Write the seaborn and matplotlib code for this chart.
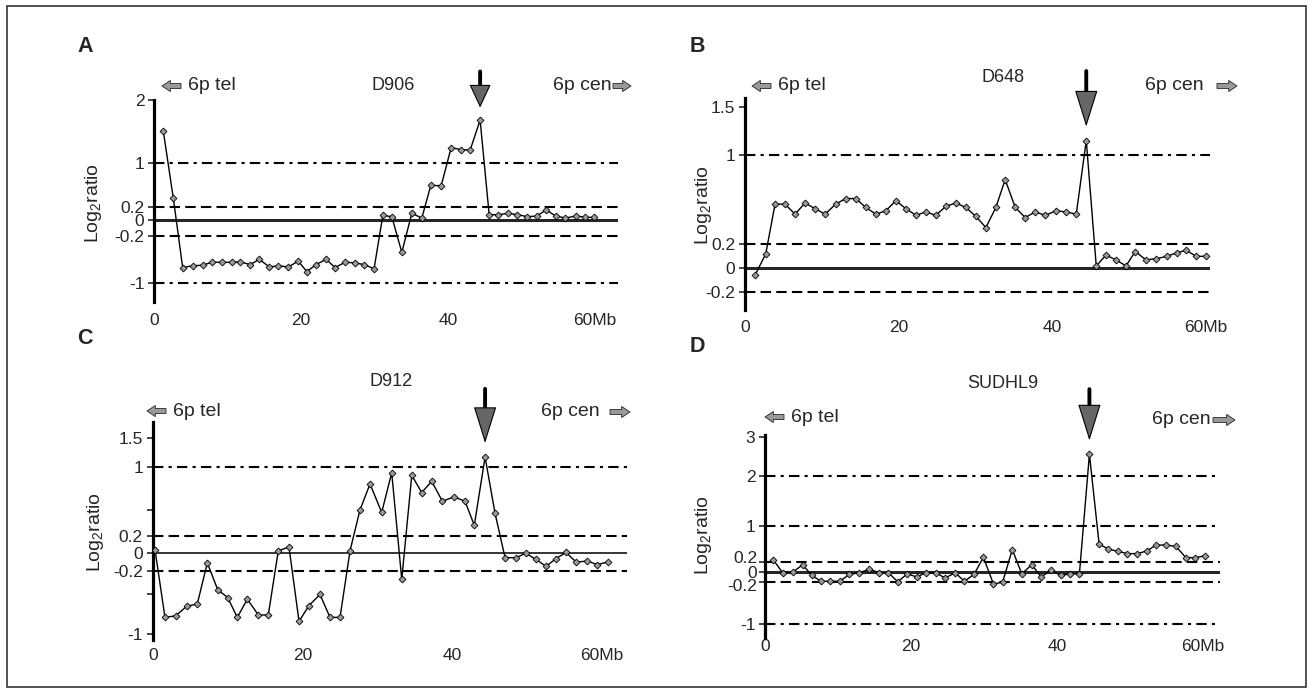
import numpy as np
import pandas as pd
import seaborn as sns
import matplotlib.pyplot as plt
from matplotlib.patches import Rectangle

W, H = 1313, 693

# Panel A - D906 (position in Mb, log2 ratio)
a_pos = [1.27, 2.63, 3.90, 5.27, 6.63, 7.85, 9.21, 10.57, 11.70, 13.06,
         14.33, 15.69, 16.91, 18.27, 19.63, 20.78, 22.04, 23.40, 24.63, 25.99,
         27.35, 28.57, 29.93, 31.12, 32.34, 33.70, 35.06, 36.42, 37.65, 39.05,
         40.41, 41.73, 42.99, 44.35, 45.58, 46.84, 48.20, 49.43, 50.79, 52.07,
         53.29, 54.65, 55.92, 57.41, 58.64, 59.86]
a_ratio = [1.5, 0.35, -0.74, -0.71, -0.70, -0.65, -0.65, -0.65, -0.64, -0.69,
           -0.60, -0.73, -0.71, -0.73, -0.63, -0.81, -0.69, -0.60, -0.74, -0.65,
           -0.66, -0.69, -0.76, 0.07, 0.05, -0.48, 0.10, 0.03, 0.59, 0.58,
           1.24, 1.21, 1.20, 1.68, 0.08, 0.08, 0.10, 0.08, 0.05, 0.06,
           0.15, 0.06, 0.03, 0.06, 0.04, 0.04]

# Panel B - D648
b_pos = [1.30, 2.70, 3.91, 5.21, 6.51, 7.81, 9.11, 10.42, 11.81, 13.11,
         14.41, 15.72, 17.02, 18.32, 19.62, 20.92, 22.23, 23.53, 24.83, 26.13,
         27.43, 28.74, 30.04, 31.34, 32.64, 33.85, 35.16, 36.46, 37.76, 39.06,
         40.49, 41.80, 43.10, 44.40, 45.70, 46.97, 48.27, 49.57, 50.78, 52.17,
         53.48, 54.91, 56.21, 57.38, 58.72, 60.03]
b_ratio = [-0.06, 0.12, 0.56, 0.56, 0.47, 0.57, 0.52, 0.47, 0.56, 0.61,
           0.61, 0.53, 0.47, 0.50, 0.59, 0.52, 0.46, 0.49, 0.46, 0.54,
           0.57, 0.53, 0.45, 0.35, 0.53, 0.78, 0.53, 0.44, 0.49, 0.46,
           0.50, 0.49, 0.47, 1.15, 0.02, 0.11, 0.07, 0.02, 0.14, 0.07,
           0.08, 0.10, 0.13, 0.15, 0.10, 0.10]

# Panel C - D912
c_pos = [0.31, 1.64, 3.07, 4.55, 5.96, 7.30, 8.69, 10.03, 11.31, 12.65,
         14.12, 15.45, 16.79, 18.22, 19.56, 20.90, 22.36, 23.70, 25.04, 26.38,
         27.71, 29.05, 30.61, 31.95, 33.29, 34.63, 35.96, 37.30, 38.72, 40.28,
         41.75, 42.99, 44.43, 45.76, 47.10, 48.57, 49.87, 51.24, 52.58, 53.92,
         55.25, 56.59, 58.10, 59.44, 60.83]
c_ratio = [0.04, -0.79, -0.77, -0.65, -0.62, -0.11, -0.44, -0.54, -0.79, -0.56,
           -0.76, -0.76, 0.03, 0.07, -0.84, -0.64, -0.50, -0.79, -0.79, 0.03,
           0.50, 0.80, 0.47, 0.93, -0.31, 0.90, 0.70, 0.83, 0.60, 0.65,
           0.60, 0.32, 1.17, 0.46, -0.05, -0.05, 0.0, -0.07, -0.15, -0.06,
           0.01, -0.10, -0.09, -0.13, -0.10]

# Panel D - SUDHL9
d_pos = [1.14, 2.42, 3.79, 5.16, 6.40, 7.67, 8.90, 10.27, 11.55, 12.92,
         14.29, 15.62, 16.89, 18.18, 19.49, 20.78, 22.05, 23.38, 24.66, 26.03,
         27.30, 28.63, 29.90, 31.27, 32.53, 33.86, 35.16, 36.53, 37.81, 39.14,
         40.51, 41.78, 43.05, 44.42, 45.75, 47.03, 48.32, 49.63, 51.00, 52.29,
         53.56, 54.89, 56.26, 57.63, 58.90, 60.18]
d_ratio = [0.24, -0.02, -0.01, 0.14, -0.07, -0.18, -0.18, -0.18, -0.05, -0.02,
           0.05, -0.02, -0.02, -0.19, -0.04, -0.10, -0.02, -0.02, -0.12, -0.02,
           -0.18, -0.05, 0.30, -0.23, -0.20, 0.47, -0.04, 0.14, -0.10, 0.03,
           -0.07, -0.04, -0.04, 2.55, 0.59, 0.48, 0.43, 0.38, 0.38, 0.44,
           0.57, 0.57, 0.54, 0.29, 0.29, 0.33]

xticks = [0, 20, 40, 60]
xticklabels = ['0', '20', '40', '60Mb']

sns.set_style('white')
plt.rcParams['font.family'] = ['Liberation Sans', 'DejaVu Sans']
plt.rcParams['mathtext.fontset'] = 'custom'
plt.rcParams['mathtext.rm'] = 'Liberation Sans'
plt.rcParams['mathtext.it'] = 'Liberation Sans:italic'

FS = 12.5
fig = plt.figure(figsize=(W / 100, H / 100), dpi=100)


def fx(px):
    return px / W


def fy(py):
    return 1 - py / H


def piecewise_scale(vals, pix):
    # the printed y axes are not quite linear: map values through anchor points
    v = np.asarray(vals, float)
    p = -np.asarray(pix, float)

    def lin(y, xs, ys):
        y = np.asarray(y, float)
        out = np.interp(y, xs, ys)
        lo_slope = (ys[1] - ys[0]) / (xs[1] - xs[0])
        hi_slope = (ys[-1] - ys[-2]) / (xs[-1] - xs[-2])
        out = np.where(y < xs[0], ys[0] + (y - xs[0]) * lo_slope, out)
        out = np.where(y > xs[-1], ys[-1] + (y - xs[-1]) * hi_slope, out)
        return out

    return (lambda y: lin(y, v, p)), (lambda u: lin(u, p, v))


# layout of each panel in reference pixels: left, right, top, bottom
panels = [
    dict(letter='A', name='D906', pos=a_pos, ratio=a_ratio,
         box=(154, 618), xmax=63.1,
         anchors=([-1.33, -1, -0.2, 0, 0.2, 1, 2], [302, 282.7, 236, 220, 206.7, 162.7, 100]),
         yticks=[2, 1, 0.2, 0, -0.2, -1], ylabels=['2', '1', '0.2', '0', '-0.2', '-1'],
         dashdot=[1, -1], zero_lw=2.2, xpad=8, arrow=(35, 9, 15, 7),
         letter_xy=(85, 46), title_xy=(393, 85), tel=(162, 86), cen=(553, 86, 613, 631),
         ylab_xy=(93, 203)),
    dict(letter='B', name='D648', pos=b_pos, ratio=b_ratio,
         box=(745, 1210), xmax=60.5,
         anchors=([-0.357, -0.2, 0, 0.2, 1, 1.5, 1.59], [310, 291.7, 268.3, 244.3, 155, 106.7, 98]),
         yticks=[1.5, 1, 0.2, 0, -0.2], ylabels=['1.5', '1', '0.2', '0', '-0.2'],
         dashdot=[1], zero_lw=2.2, xpad=7, arrow=(50, 10, 24, 7.5),
         letter_xy=(697, 46), title_xy=(1003, 77), tel=(752, 86), cen=(1145, 86, 1217, 1237),
         ylab_xy=(703, 205)),
    dict(letter='C', name='D912', pos=c_pos, ratio=c_ratio,
         box=(152.7, 627), xmax=63.4,
         anchors=([-1.08, -1, -0.2, 0, 0.2, 1, 1.5, 1.79],
                  [640, 634, 570.7, 553.3, 535.7, 466.7, 438, 421.7]),
         yticks=[1.5, 1, 0.5, 0.2, 0, -0.2, -0.5, -1],
         ylabels=['1.5', '1', '', '0.2', '0', '-0.2', '', '-1'],
         dashdot=[1], zero_lw=1.3, xpad=6, arrow=(49, 10, 24, 7.5),
         letter_xy=(85, 338), title_xy=(391, 381), tel=(147, 411), cen=(541, 412, 610, 630),
         ylab_xy=(95, 532)),
    dict(letter='D', name='SUDHL9', pos=d_pos, ratio=d_ratio,
         box=(765, 1220), xmax=62.3,
         anchors=([-1.27, -1, -0.2, 0, 0.2, 1, 2, 3, 3.05],
                  [638, 624, 582.3, 571.7, 561.7, 525.7, 475.7, 437, 435]),
         yticks=[3, 2, 1, 0.2, 0, -0.2, -1],
         ylabels=['3', '2', '1', '', '', '', '-1'],
         crowded=[(0.2, '0.2', 2), (0, '0', -1), (-0.2, '-0.2', -3)],
         dashdot=[2, 1, -1], zero_lw=2.2, xpad=1, arrow=(47, 10, 24, 7.5),
         letter_xy=(697, 347), title_xy=(1003, 384), tel=(765, 417), cen=(1152, 420, 1213, 1235),
         ylab_xy=(703, 535)),
]

small_arrow = dict(arrowstyle='simple,head_length=0.6,head_width=0.8,tail_width=0.35',
                   mutation_scale=10, fc='0.6', ec='0.15', lw=0.6, shrinkA=0, shrinkB=0)

for p in panels:
    l, r = p['box']
    vals, pix = p['anchors']
    t, b = pix[-1], pix[0]
    ax = fig.add_axes([fx(l), fy(b), (r - l) / W, (b - t) / H])
    ax.patch.set_alpha(0)
    ax.set_yscale('function', functions=piecewise_scale(vals, pix))

    # reference lines
    for v in p['dashdot']:
        ax.axhline(v, color='black', lw=1.5, ls=(0, (5, 2.5, 1.5, 2.5)), zorder=1)
    for v in (0.2, -0.2):
        ax.axhline(v, color='black', lw=1.5, ls=(0, (5, 2.5)), zorder=1)
    ax.axhline(0, color='0.15', lw=p['zero_lw'], zorder=1)

    df = pd.DataFrame({'pos': p['pos'], 'ratio': p['ratio']})
    sns.lineplot(data=df, x='pos', y='ratio', ax=ax, color='black', lw=1.0,
                 marker='D', markersize=3.5, markerfacecolor='0.6',
                 markeredgecolor='black', markeredgewidth=0.6, zorder=3)

    ax.set_xlim(0, p['xmax'])
    ax.set_ylim(vals[0], vals[-1])
    ax.set_xlabel('')
    ax.set_ylabel('')
    ax.set_xticks(xticks)
    ax.set_xticklabels(xticklabels, fontsize=FS)
    ax.set_yticks(p['yticks'])
    ax.set_yticklabels(p['ylabels'], fontsize=FS)
    ax.minorticks_off()
    ax.tick_params(axis='x', length=0, pad=p['xpad'])
    ax.tick_params(axis='y', direction='out', length=4, width=1.2, pad=3, left=True)
    for s in ('top', 'right', 'bottom'):
        ax.spines[s].set_visible(False)
    ax.spines['left'].set_linewidth(2.3)
    ax.spines['left'].set_color('black')

    # labels close together around zero, nudged apart a little
    for v, txt, dy in p.get('crowded', []):
        ax.annotate(txt, xy=(0, v), xycoords=ax.get_yaxis_transform(),
                    xytext=(-5.5, dy), textcoords='offset points',
                    ha='right', va='center', fontsize=FS, annotation_clip=False)

    # big arrow marking the peak
    length, gap, head, hw = p['arrow']
    i = int(np.argmax(p['ratio']))
    peak = (p['pos'][i], p['ratio'][i])
    ax.annotate('', xy=peak, xytext=(0, length), textcoords='offset points',
                arrowprops=dict(arrowstyle='-', lw=2.8, color='black',
                                shrinkA=0, shrinkB=gap + head - 2),
                annotation_clip=False)
    ax.annotate('', xy=peak, xytext=(0, gap + head), textcoords='offset points',
                arrowprops=dict(arrowstyle=f'-|>,head_length={head},head_width={hw}',
                                mutation_scale=1, lw=0.8, fc='0.4', ec='black',
                                shrinkA=0, shrinkB=gap),
                annotation_clip=False)

    # texts
    fig.text(fx(p['letter_xy'][0]), fy(p['letter_xy'][1]), p['letter'],
             fontsize=15.5, fontweight='bold', ha='center', va='center')
    fig.text(fx(p['title_xy'][0]), fy(p['title_xy'][1]), p['name'],
             fontsize=13, ha='center', va='center')
    fig.text(fx(p['ylab_xy'][0]), fy(p['ylab_xy'][1]), r'Log$_2$ratio',
             fontsize=14, rotation=90, ha='center', va='center')

    # 6p tel / 6p cen labels with small arrows
    tx, ty = p['tel']
    fig.text(fx(tx + 26), fy(ty), '6p tel', fontsize=14, ha='left', va='center')
    ax.annotate('', xy=(tx, H - ty), xytext=(tx + 19, H - ty),
                xycoords='figure pixels', textcoords='figure pixels',
                arrowprops=small_arrow)
    cx, cy, a0, a1 = p['cen']
    fig.text(fx(cx), fy(cy), '6p cen', fontsize=14, ha='left', va='center')
    ax.annotate('', xy=(a1, H - cy), xytext=(a0, H - cy),
                xycoords='figure pixels', textcoords='figure pixels',
                arrowprops=small_arrow)

# frame round the whole figure
fig.patches.append(Rectangle((fx(7), fy(687)), (1306 - 7) / W, (687 - 6) / H,
                             transform=fig.transFigure, fill=False,
                             lw=1.2, edgecolor='0.2'))

fig.savefig('out.png', dpi=100)
